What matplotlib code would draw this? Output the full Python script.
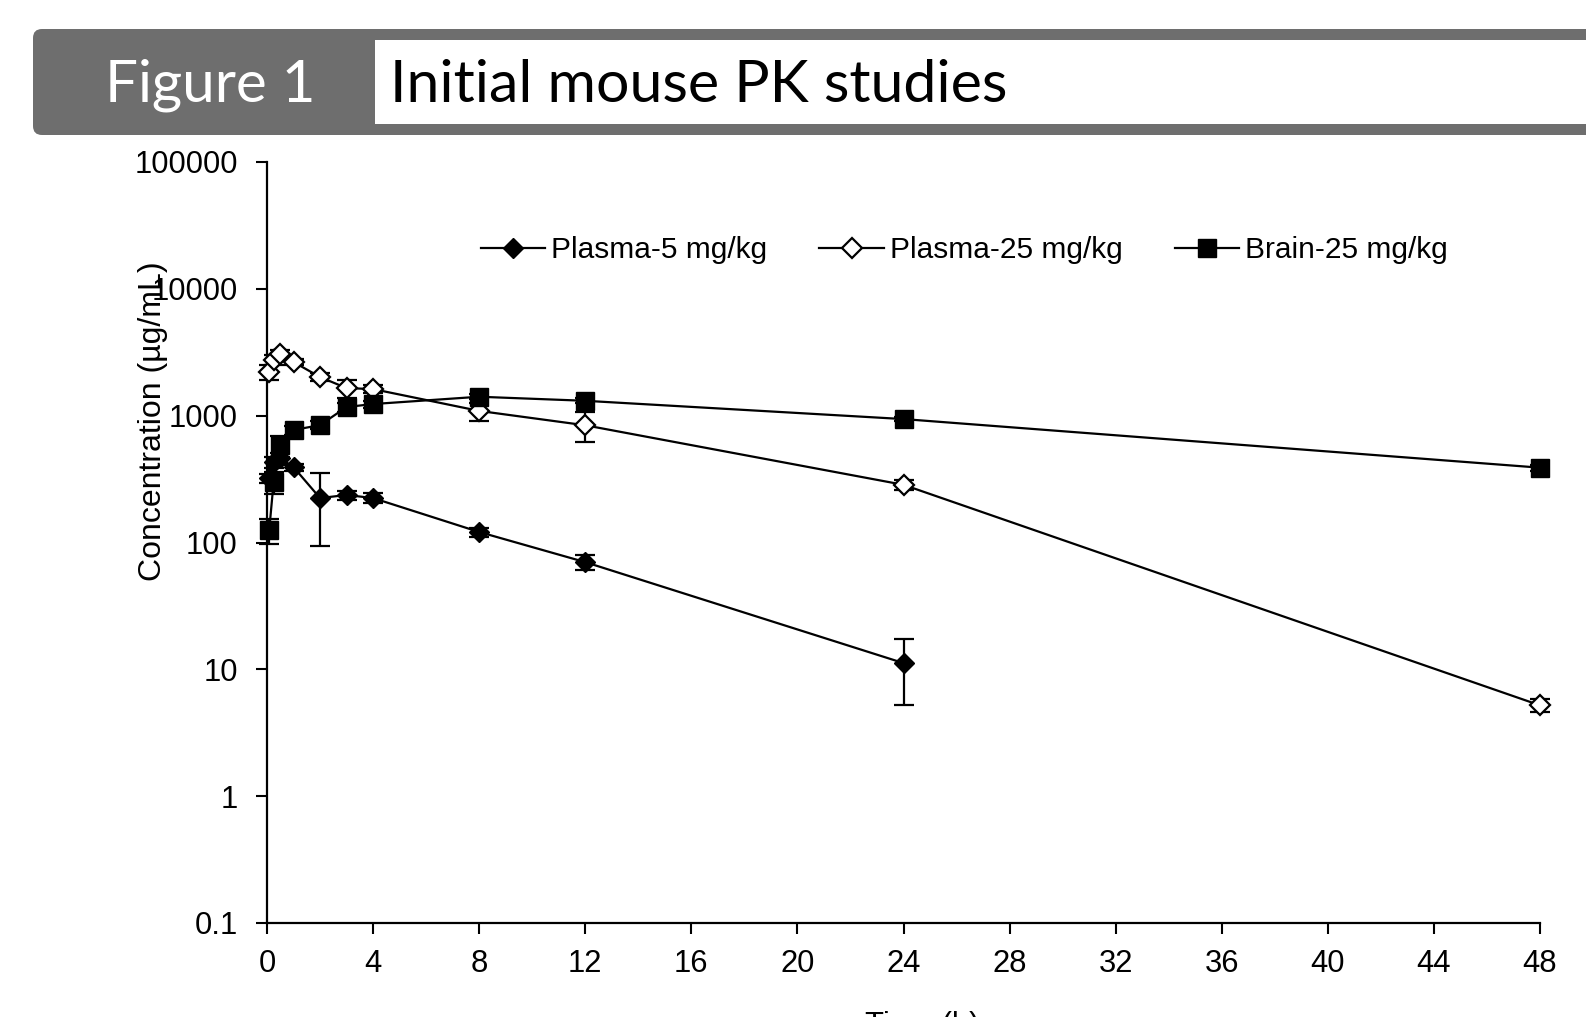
import matplotlib
matplotlib.use("Agg")
import matplotlib.pyplot as plt
from matplotlib.patches import FancyBboxPatch, Rectangle

# Zeitpunkte [h] und Konzentrationen (Mittelwert, SD)
t_plasma5 = [0.083, 0.25, 0.5, 1, 2, 3, 4, 8, 12, 24]
c_plasma5 = [320, 430, 460, 393, 224, 237, 224, 121, 70, 11.2]
sd_plasma5 = [25, 40, 50, 25, 131, 20, 20, 10, 9, 6]

t_plasma25 = [0.083, 0.25, 0.5, 1, 2, 3, 4, 8, 12, 24, 48]
c_plasma25 = [2210, 2740, 3050, 2650, 2015, 1650, 1620, 1090, 840, 285, 5.2]
sd_plasma25 = [300, 250, 250, 150, 150, 270, 120, 180, 220, 25, 0.6]

t_brain25 = [0.083, 0.25, 0.5, 1, 2, 3, 4, 8, 12, 24, 48]
c_brain25 = [125, 300, 586, 770, 843, 1170, 1235, 1410, 1310, 940, 389]
sd_brain25 = [28, 60, 110, 60, 60, 100, 80, 60, 60, 40, 20]

labels = ["Plasma-5 mg/kg", "Plasma-25 mg/kg", "Brain-25 mg/kg"]
y_ticks = [0.1, 1, 10, 100, 1000, 10000, 100000]
y_ticklabels = ["0.1", "1", "10", "100", "1000", "10000", "100000"]
x_ticks = list(range(0, 49, 4))

plt.rcParams['font.family'] = ['Liberation Sans', 'DejaVu Sans']

W, H = 1586, 1017
fig = plt.figure(figsize=(W / 100, H / 100), dpi=100)

# Kopfzeile "Figure 1"
hax = fig.add_axes([0, 1 - 140 / H, 1, 140 / H])
hax.set_xlim(0, W)
hax.set_ylim(140, 0)
hax.axis("off")
grey = "#6e6e6e"
hax.add_patch(FancyBboxPatch((33, 29), 1600, 106,
                             boxstyle="round,pad=0,rounding_size=9",
                             fc=grey, ec="none"))
hax.add_patch(Rectangle((375, 40), 1300, 84, fc="white", ec="none"))
hax.text(105, 85, "Figure 1", color="white", fontsize=42,
         family="Lato", va="center", ha="left")
hax.text(390, 85, "Initial mouse PK studies", color="black", fontsize=42.5,
         family="Lato", va="center", ha="left")

# Hauptdiagramm
ax = fig.add_axes([267 / W, 94 / H, (1540 - 267) / W, (923 - 162) / H])
ax.set_yscale("log")

series = [
    (t_plasma5, c_plasma5, sd_plasma5, dict(marker="D", ms=10.5, mfc="black", mec="black")),
    (t_plasma25, c_plasma25, sd_plasma25, dict(marker="D", ms=10.5, mfc="white", mec="black", mew=1.6)),
    (t_brain25, c_brain25, sd_brain25, dict(marker="s", ms=13, mfc="black", mec="black")),
]
handles = []
for (t, c, sd, mk), lab in zip(series, labels):
    ax.errorbar(t, c, yerr=sd, fmt="none", ecolor="black", elinewidth=1.6,
                capsize=7, capthick=1.6, clip_on=False, zorder=2)
    h, = ax.plot(t, c, color="black", lw=1.6, label=lab, clip_on=False,
                 zorder=3, **mk)
    handles.append(h)

ax.set_xlim(0, 48)
ax.set_ylim(0.1, 100000)
ax.set_xticks(x_ticks)
ax.set_xticklabels([str(v) for v in x_ticks])
ax.set_yticks(y_ticks)
ax.set_yticklabels(y_ticklabels)
ax.minorticks_off()
ax.tick_params(axis="both", labelsize=22.3, length=8, width=1.5, direction="out")
ax.tick_params(axis="y", pad=13)
ax.tick_params(axis="x", pad=11)
for s in ["top", "right"]:
    ax.spines[s].set_visible(False)
for s in ["left", "bottom"]:
    ax.spines[s].set_linewidth(1.6)

ax.set_ylabel("Concentration (µg/mL)", fontsize=23)
ax.yaxis.set_label_coords(-0.078, 0.66)
ax.set_xlabel("Time (h)", fontsize=22.3)
ax.xaxis.set_label_coords(0.515, -0.115)

ax.legend(handles=handles, loc="center left", bbox_to_anchor=(0.168, 0.884),
          ncol=3, frameon=False, fontsize=21.5, handlelength=2.15,
          handletextpad=0.2, columnspacing=1.75, borderpad=0,
          borderaxespad=0, numpoints=1)

fig.savefig("out.png", dpi=100)
